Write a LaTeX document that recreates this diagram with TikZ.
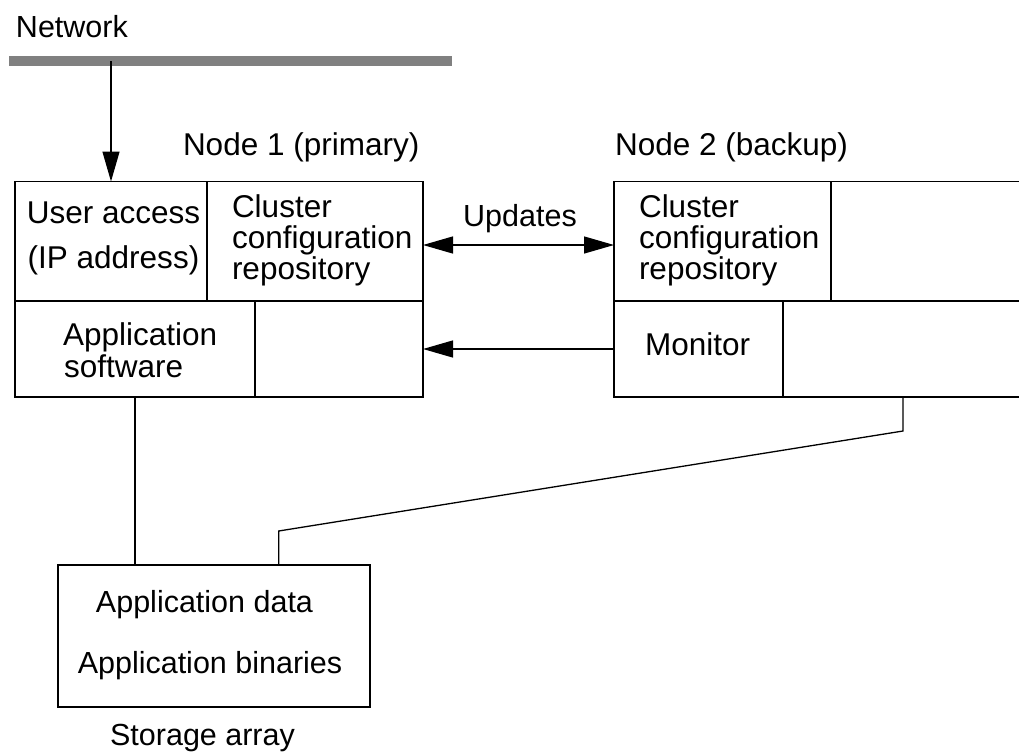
\documentclass[tikz,border=0pt]{standalone}
\usepackage{fontspec}
\setmainfont{Liberation Sans}
\usetikzlibrary{arrows.meta}
\definecolor{netgray}{RGB}{128,128,128}
\begin{document}
\begin{tikzpicture}[x=1pt,y=-1pt,
  cell/.style={draw, line width=1.3pt, outer sep=0pt, inner sep=0pt, anchor=north west},
  txt/.style={font=\fontsize{31.5}{32}\selectfont, inner sep=0pt, outer sep=0pt, anchor=base west},
  ctxt/.style={font=\fontsize{31.5}{32}\selectfont, inner sep=0pt, outer sep=0pt, anchor=base},
  small/.style={font=\fontsize{30.5}{31}\selectfont},
  wire/.style={line width=1.3pt},
  arr/.style={line width=1.3pt, -{Triangle[length=30pt,width=17pt]}},
  biarr/.style={line width=1.3pt, {Triangle[length=30pt,width=17pt]}-{Triangle[length=30pt,width=17pt]}}]
\useasboundingbox (0,0) rectangle (1019,755);
\clip (0,0) rectangle (1019,755);

% network bus
\node[fill=netgray, inner sep=0pt, outer sep=0pt, minimum width=443pt, minimum height=10pt, anchor=north west] (net) at (9,56) {};
\node[txt, small] (netlbl) at (16,37) {Network};

% node 1 (primary)
\node[txt] (n1lbl) at (183,155) {Node 1 (primary)};
\node[cell, minimum width=192pt, minimum height=119.5pt] (ua)   at (15,181.5) {};
\node[cell, minimum width=216pt, minimum height=119.5pt] (ccr1) at (207,181.5) {};
\node[cell, minimum width=240pt, minimum height=96pt]    (app)  at (15,301) {};
\node[cell, minimum width=168pt, minimum height=96pt]    (n1r)  at (255,301) {};

\node[ctxt] (uat1) at (113.5,223) {User access};
\node[ctxt] (uat2) at (113.5,268) {(IP address)};
\node[txt] (c1a) at (232,217.5) {Cluster};
\node[txt] (c1b) at (232,248.5) {configuration};
\node[txt] (c1c) at (232,279) {repository};
\node[txt] (apt1) at (63,345) {Application};
\node[txt] (apt2) at (64,377) {software};

% node 2 (backup)
\node[txt] (n2lbl) at (615,155) {Node 2 (backup)};
\node[cell, minimum width=217pt, minimum height=119.5pt] (ccr2) at (614,181.5) {};
\node[cell, minimum width=210pt, minimum height=119.5pt] (n2ur) at (831,181.5) {};
\node[cell, minimum width=169pt, minimum height=96pt]    (mon)  at (614,301) {};
\node[cell, minimum width=258pt, minimum height=96pt]    (n2lr) at (783,301) {};

\node[txt] (c2a) at (639,217.5) {Cluster};
\node[txt] (c2b) at (639,248.5) {configuration};
\node[txt] (c2c) at (639,279) {repository};
\node[txt] (mont) at (645,355) {Monitor};

% storage array
\node[cell, minimum width=312pt, minimum height=142pt] (st) at (58,565) {};
\node[ctxt, small] (sd1) at (204.5,612) {Application data};
\node[ctxt, small] (sd2) at (210,673) {Application binaries};
\node[ctxt, small] (stlbl) at (202.5,745) {Storage array};

% connectors
\draw[arr] (ua.north |- net.center) -- (ua.north);
\draw[biarr] ([yshift=-3.75pt]ccr1.east) -- ([yshift=-3.75pt]ccr1.east -| ccr2.west);
\node[ctxt, small] (upd) at (520,226) {Updates};
\draw[arr] (mon.west) -- (n1r.east);
\draw[wire] (app.south) -- (app.south |- st.north);
\coordinate (drop2) at (903,397);
\coordinate (bend) at (278.7,531);
\draw[wire] (drop2) -- (903,431) -- (bend) -- (bend |- st.north);
\end{tikzpicture}
\end{document}
